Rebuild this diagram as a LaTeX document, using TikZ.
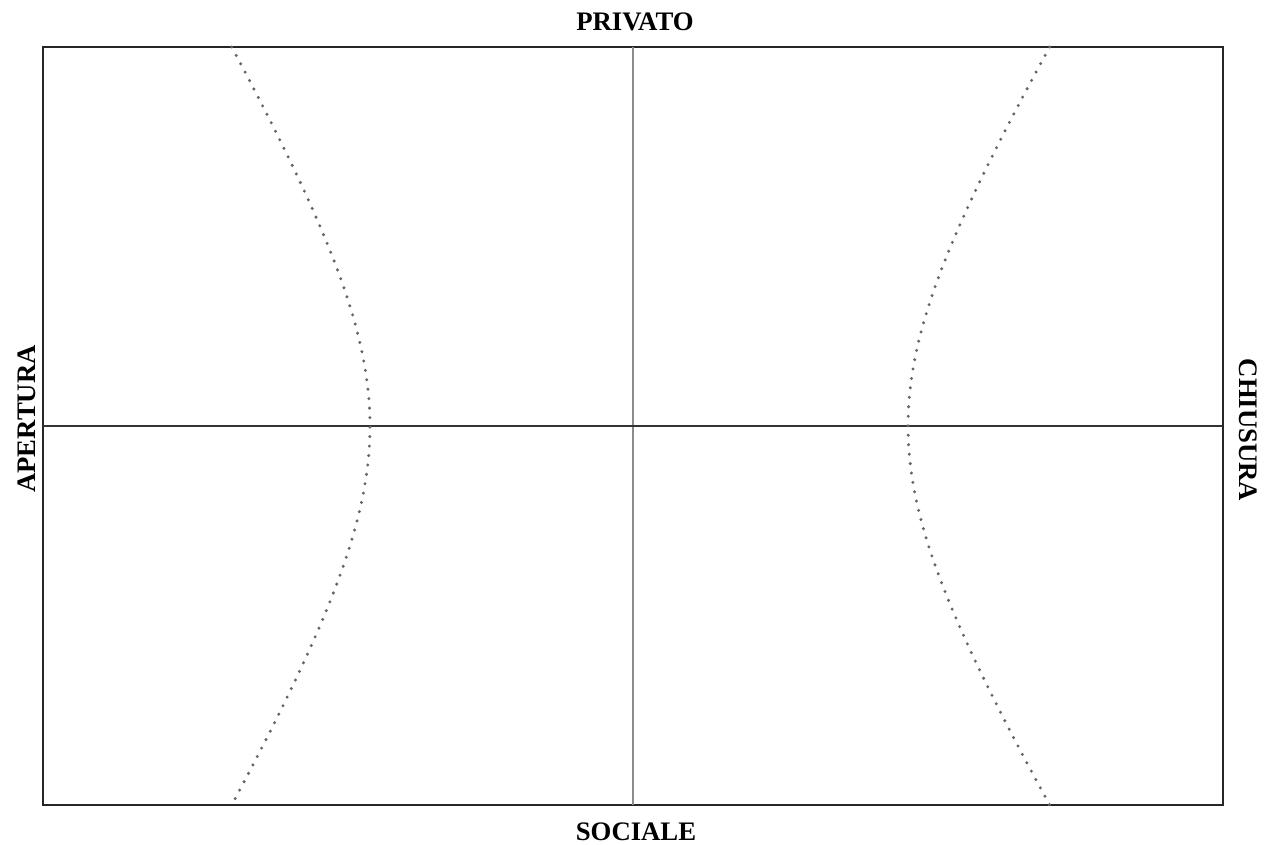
\documentclass[tikz,border=0pt]{standalone}
\usepackage{fontspec}
\setmainfont{Liberation Serif}
\usepackage{tikz}

\begin{document}
\begin{tikzpicture}[x=0.01cm, y=-0.01cm, every node/.style={font=\fontsize{7.6}{9}\selectfont\bfseries, inner sep=0pt},
    frame/.style={draw=black!85, line width=0.6pt},
    axis/.style={line width=0.5pt},
    border/.style={draw=black!60, line width=0.95pt, dash pattern=on 0pt off 2.7pt, line cap=round}]
    \useasboundingbox (0,0) rectangle (1264,844);
    % frame: 43-1223 across, 47-805 down, axes cross at (633,426)
    \coordinate (nw) at (43,47);
    \coordinate (se) at (1223,805);
    \coordinate (top) at (633,47);
    \coordinate (bot) at (633,805);
    \coordinate (left) at (43,426);
    \coordinate (right) at (1223,426);
    \draw[frame] (nw) rectangle (se);
    \draw[axis, black!45] (top) -- (bot);
    \draw[axis, black!80] (left) -- (right);
    % dotted boundaries (hyperbola-like, vertex on the horizontal axis)
    \draw[border] plot[domain=-379:379, samples=80] ({370-121*(sqrt(1+(\x/200)^2)-1)}, {426+\x});
    \draw[border] plot[domain=-379:379, samples=80] ({908+124*(sqrt(1+(\x/200)^2)-1)}, {426+\x});
    % labels
    \node (privato) at (635,22) {PRIVATO};
    \node (sociale) at (636,832) {SOCIALE};
    \node[rotate=90] (apertura) at (27,419) {APERTURA};
    \node[rotate=-90] (chiusura) at (1248,430) {CHIUSURA};
  \end{tikzpicture}
\end{document}
